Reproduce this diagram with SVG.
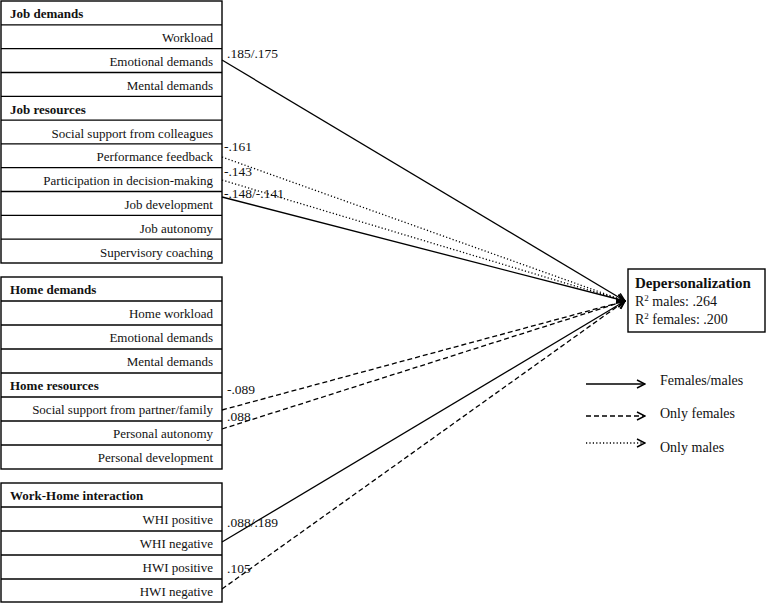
<svg xmlns="http://www.w3.org/2000/svg" width="767" height="603" viewBox="0 0 767 603">
<defs>
<style>
.box{fill:#fff;stroke:#000;stroke-width:1.4}
.row{stroke:#000;stroke-width:1.3}
.t{font-family:"Liberation Serif","Times New Roman",serif;font-size:13px;fill:#111}
.r{text-anchor:end}
.h{font-weight:bold}
.c{font-family:"Liberation Serif","Times New Roman",serif;font-size:13.5px;fill:#111}
.lg{font-family:"Liberation Serif","Times New Roman",serif;font-size:14px;fill:#111}
.solid{stroke:#000;stroke-width:1.3;fill:none;marker-end:url(#arr)}
.dash{stroke:#000;stroke-width:1.3;fill:none;stroke-dasharray:5 3;marker-end:url(#arr)}
.dot{stroke:#000;stroke-width:1.3;fill:none;stroke-dasharray:1.2 2.2;marker-end:url(#arr)}
</style>
<marker id="arr" viewBox="0 0 10 10" refX="9" refY="5" markerWidth="10" markerHeight="10" markerUnits="userSpaceOnUse" orient="auto">
<path d="M1,1 L9,5 L1,9" fill="none" stroke="#000" stroke-width="1.4"/>
</marker>
</defs>

<g id="job-box">
<rect class="box" x="1" y="1" width="221" height="262"/>
<line class="row" x1="1" y1="24.8" x2="222" y2="24.8"/>
<line class="row" x1="1" y1="48.6" x2="222" y2="48.6"/>
<line class="row" x1="1" y1="72.5" x2="222" y2="72.5"/>
<line class="row" x1="1" y1="96.3" x2="222" y2="96.3"/>
<line class="row" x1="1" y1="120.1" x2="222" y2="120.1"/>
<line class="row" x1="1" y1="143.9" x2="222" y2="143.9"/>
<line class="row" x1="1" y1="167.7" x2="222" y2="167.7"/>
<line class="row" x1="1" y1="191.5" x2="222" y2="191.5"/>
<line class="row" x1="1" y1="215.4" x2="222" y2="215.4"/>
<line class="row" x1="1" y1="239.2" x2="222" y2="239.2"/>
<text class="t h" x="10" y="18">Job demands</text>
<text class="t r" x="213" y="42">Workload</text>
<text class="t r" x="213" y="66">Emotional demands</text>
<text class="t r" x="213" y="90">Mental demands</text>
<text class="t h" x="10" y="113.5">Job resources</text>
<text class="t r" x="213" y="137.5">Social support from colleagues</text>
<text class="t r" x="213" y="161">Performance feedback</text>
<text class="t r" x="213" y="185">Participation in decision-making</text>
<text class="t r" x="213" y="209">Job development</text>
<text class="t r" x="213" y="232.5">Job autonomy</text>
<text class="t r" x="213" y="256.5">Supervisory coaching</text>
</g>

<g id="home-box">
<rect class="box" x="1" y="277" width="221" height="192"/>
<line class="row" x1="1" y1="301" x2="222" y2="301"/>
<line class="row" x1="1" y1="325" x2="222" y2="325"/>
<line class="row" x1="1" y1="349" x2="222" y2="349"/>
<line class="row" x1="1" y1="373" x2="222" y2="373"/>
<line class="row" x1="1" y1="397" x2="222" y2="397"/>
<line class="row" x1="1" y1="421" x2="222" y2="421"/>
<line class="row" x1="1" y1="445" x2="222" y2="445"/>
<text class="t h" x="10" y="294">Home demands</text>
<text class="t r" x="213" y="318">Home workload</text>
<text class="t r" x="213" y="342">Emotional demands</text>
<text class="t r" x="213" y="366">Mental demands</text>
<text class="t h" x="10" y="390">Home resources</text>
<text class="t r" x="213" y="414">Social support from partner/family</text>
<text class="t r" x="213" y="438">Personal autonomy</text>
<text class="t r" x="213" y="462">Personal development</text>
</g>

<g id="whi-box">
<rect class="box" x="1" y="483" width="221" height="119"/>
<line class="row" x1="1" y1="507" x2="222" y2="507"/>
<line class="row" x1="1" y1="531" x2="222" y2="531"/>
<line class="row" x1="1" y1="555" x2="222" y2="555"/>
<line class="row" x1="1" y1="579" x2="222" y2="579"/>
<text class="t h" x="10" y="500">Work-Home interaction</text>
<text class="t r" x="213" y="524">WHI positive</text>
<text class="t r" x="213" y="548">WHI negative</text>
<text class="t r" x="213" y="572">HWI positive</text>
<text class="t r" x="213" y="596">HWI negative</text>
</g>

<g id="outcome">
<rect class="box" x="628" y="269" width="137" height="63"/>
<text class="lg h" x="635" y="288" style="font-size:15px">Depersonalization</text>
<text class="lg" x="635" y="306">R<tspan font-size="9" dy="-5">2</tspan><tspan dy="5"> males: .264</tspan></text>
<text class="lg" x="635" y="324">R<tspan font-size="9" dy="-5">2</tspan><tspan dy="5"> females: .200</tspan></text>
</g>

<g id="connectors">
<line class="solid" x1="222" y1="60" x2="625" y2="301"/>
<line class="dot" x1="222" y1="157" x2="625" y2="301"/>
<line class="dot" x1="222" y1="180" x2="625" y2="301"/>
<line class="solid" x1="222" y1="197" x2="625" y2="301"/>
<line class="dash" x1="222" y1="410" x2="625" y2="301"/>
<line class="dash" x1="222" y1="429" x2="625" y2="301"/>
<line class="solid" x1="222" y1="542" x2="625" y2="301"/>
<line class="dash" x1="222" y1="589" x2="625" y2="301"/>
</g>

<g id="coefficients">
<text class="c" x="227" y="58">.185/.175</text>
<text class="c" x="224" y="151">-.161</text>
<text class="c" x="224" y="176">-.143</text>
<text class="c" x="224" y="198">-.148/-.141</text>
<text class="c" x="227" y="394">-.089</text>
<text class="c" x="227" y="421">.088</text>
<text class="c" x="227" y="527">.088/.189</text>
<text class="c" x="227" y="573">.105</text>
</g>

<g id="legend">
<line class="solid" x1="586" y1="384" x2="645" y2="384"/>
<line class="dash" x1="586" y1="416" x2="645" y2="416"/>
<line class="dot" x1="586" y1="443" x2="645" y2="443"/>
<text class="lg" x="660" y="385">Females/males</text>
<text class="lg" x="660" y="418">Only females</text>
<text class="lg" x="660" y="452">Only males</text>
</g>
</svg>
